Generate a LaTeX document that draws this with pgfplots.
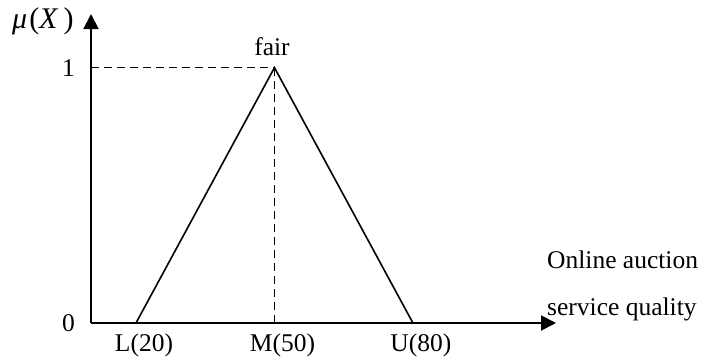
\documentclass[border=0pt]{standalone}
\usepackage{fontspec}
\setmainfont{Liberation Serif}
\usepackage{pgfplots}
\pgfplotsset{compat=1.18}
\usetikzlibrary{arrows.meta}

\begin{document}
\fontsize{25.5}{30}\selectfont
\begin{tikzpicture}
\useasboundingbox (0,0) rectangle (723pt,360pt);
\begin{axis}[
  at={(91pt,37pt)}, anchor=south west,
  scale only axis, width=465pt, height=309pt,
  xmin=10.25, xmax=111, ymin=0, ymax=1.21,
  axis x line=bottom, axis y line=left,
  axis line style={line width=1.9pt, -{Triangle[length=15pt,width=15pt]}},
  xtick={20,50,80}, xticklabels={L(20),M(50),U(80)},
  ytick={0,1},
  major tick length=0pt,
  tick label style={font=\fontsize{25.5}{30}\selectfont},
  xticklabel style={anchor=north, inner sep=0pt, yshift=-11pt, xshift=8pt},
  yticklabel style={anchor=east, inner sep=0pt, xshift=-16pt},
  /pgf/number format/assume math mode=true,
  clip=false,
]
% membership function "fair"
\addplot[black, line width=1.6pt] coordinates {(20,0) (50,1) (80,0)};
% guide lines to the peak
\addplot[black, line width=1.4pt, dash pattern=on 8pt off 5pt] coordinates {(10.25,1) (50,1)};
\addplot[black, line width=1.4pt, dash pattern=on 8pt off 5pt] coordinates {(50,0) (50,1)};
\end{axis}
\node[anchor=base west, inner sep=0pt, font=\fontsize{30}{36}\selectfont] at (12pt,332pt) {\textit{μ}\kern2pt(\textit{X}\,)};
\node[anchor=base, inner sep=0pt] at (272pt,305pt) {fair};
\node[anchor=base west, inner sep=0pt] at (547pt,92pt) {Online auction};
\node[anchor=base west, inner sep=0pt] at (547pt,45pt) {service quality};
\end{tikzpicture}
\end{document}
